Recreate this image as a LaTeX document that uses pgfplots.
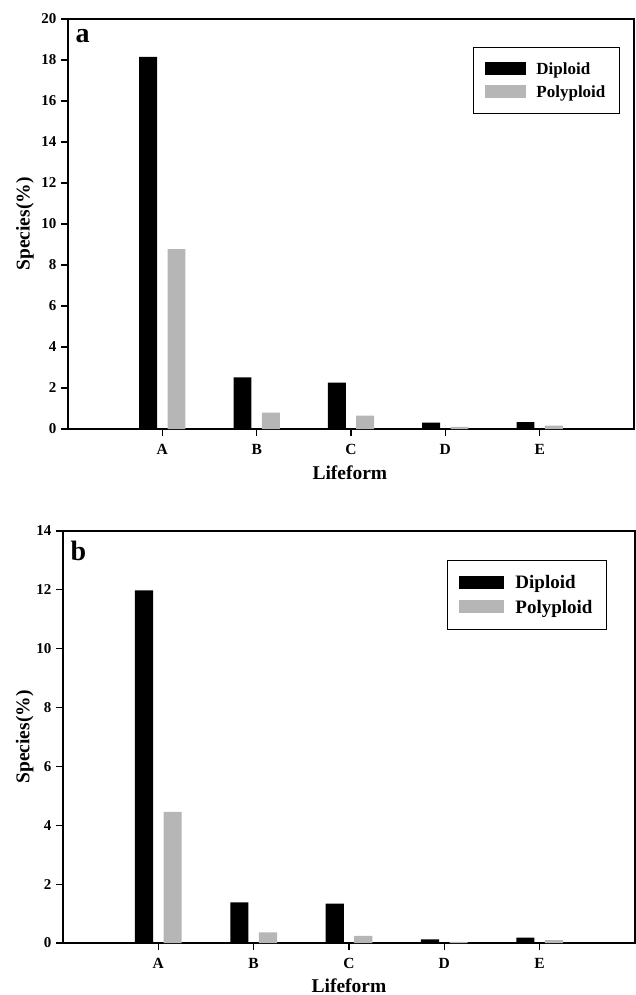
\documentclass[border=0pt]{standalone}
\usepackage{fontspec}
\setmainfont{Liberation Serif}
\usepackage{pgfplots}
\pgfplotsset{compat=1.18}
\definecolor{polygray}{RGB}{182,182,182}
\begin{document}
\begin{tikzpicture}
\path[use as bounding box] (0pt,0pt) rectangle (635pt,-995pt);
\pgfplotsset{
  common/.style={
    scale only axis, ybar, xmin=0, xmax=6, ymin=0,
    xtick={1,2,3,4,5}, xticklabels={A,B,C,D,E},
    tick pos=left, tick align=outside, major tick length=7pt,
    axis line style={line width=1.1pt},
    every tick/.style={line width=1.1pt, black},
    /pgf/number format/assume math mode=true,
    yticklabel style={font=\fontsize{15}{17}\selectfont\bfseries, xshift=-1pt},
    xticklabel style={font=\fontsize{15.5}{17}\selectfont\bfseries, yshift=-5pt},
    ylabel={Species(\%)}, xlabel={Lifeform},
    label style={font=\fontsize{19.5}{21}\selectfont\bfseries},
    legend cell align=left,
    legend style={anchor=north east, draw=black, line width=0.9pt,
      inner xsep=12pt, inner ysep=13pt, row sep=6pt, nodes={inner sep=2pt}},
  },
  dip/.style={fill=black, draw=none, bar width=0.19, bar shift=-0.15},
  pol/.style={fill=polygray, draw=none, bar width=0.19, bar shift=0.15},
}
% ---- panel a ----
\begin{axis}[common, at={(68pt,-429pt)}, anchor=south west,
  width=566pt, height=410pt, ymax=20, ytick={0,2,...,20},
  ylabel style={at={(axis description cs:-0.076,0.5)}, anchor=center},
  xlabel style={at={(axis description cs:0.498,-0.107)}, anchor=center},
  legend image code/.code={\fill[#1] (0pt,-6pt) rectangle (41pt,7pt); \path (49pt,0pt);},
  legend style={at={(axis description cs:0.975,0.932)},
    font=\fontsize{17}{19}\selectfont\bfseries}]
\addplot[dip] coordinates {(1,18.15) (2,2.52) (3,2.26) (4,0.31) (5,0.34)};
\addplot[pol] coordinates {(1,8.78) (2,0.80) (3,0.65) (4,0.10) (5,0.17)};
\legend{Diploid, Polyploid}
\node[anchor=north west, font=\fontsize{28}{30}\selectfont\bfseries, inner sep=0pt]
  at (axis description cs:0.013,0.975) {a};
\end{axis}
% ---- panel b ----
\begin{axis}[common, at={(63pt,-943pt)}, anchor=south west,
  width=572pt, height=412pt, ymax=14, ytick={0,2,...,14},
  ylabel style={at={(axis description cs:-0.067,0.5)}, anchor=center},
  xlabel style={at={(axis description cs:0.5,-0.104)}, anchor=center},
  legend image code/.code={\fill[#1] (0pt,-6pt) rectangle (45pt,7pt); \path (54pt,0pt);},
  legend style={at={(axis description cs:0.951,0.930)},
    font=\fontsize{19}{21}\selectfont\bfseries}]
\addplot[dip] coordinates {(1,11.98) (2,1.38) (3,1.34) (4,0.12) (5,0.18)};
\addplot[pol] coordinates {(1,4.46) (2,0.36) (3,0.24) (4,0.04) (5,0.10)};
\legend{Diploid, Polyploid}
\node[anchor=north west, font=\fontsize{28}{30}\selectfont\bfseries, inner sep=0pt]
  at (axis description cs:0.013,0.975) {b};
\end{axis}
\end{tikzpicture}
\end{document}
